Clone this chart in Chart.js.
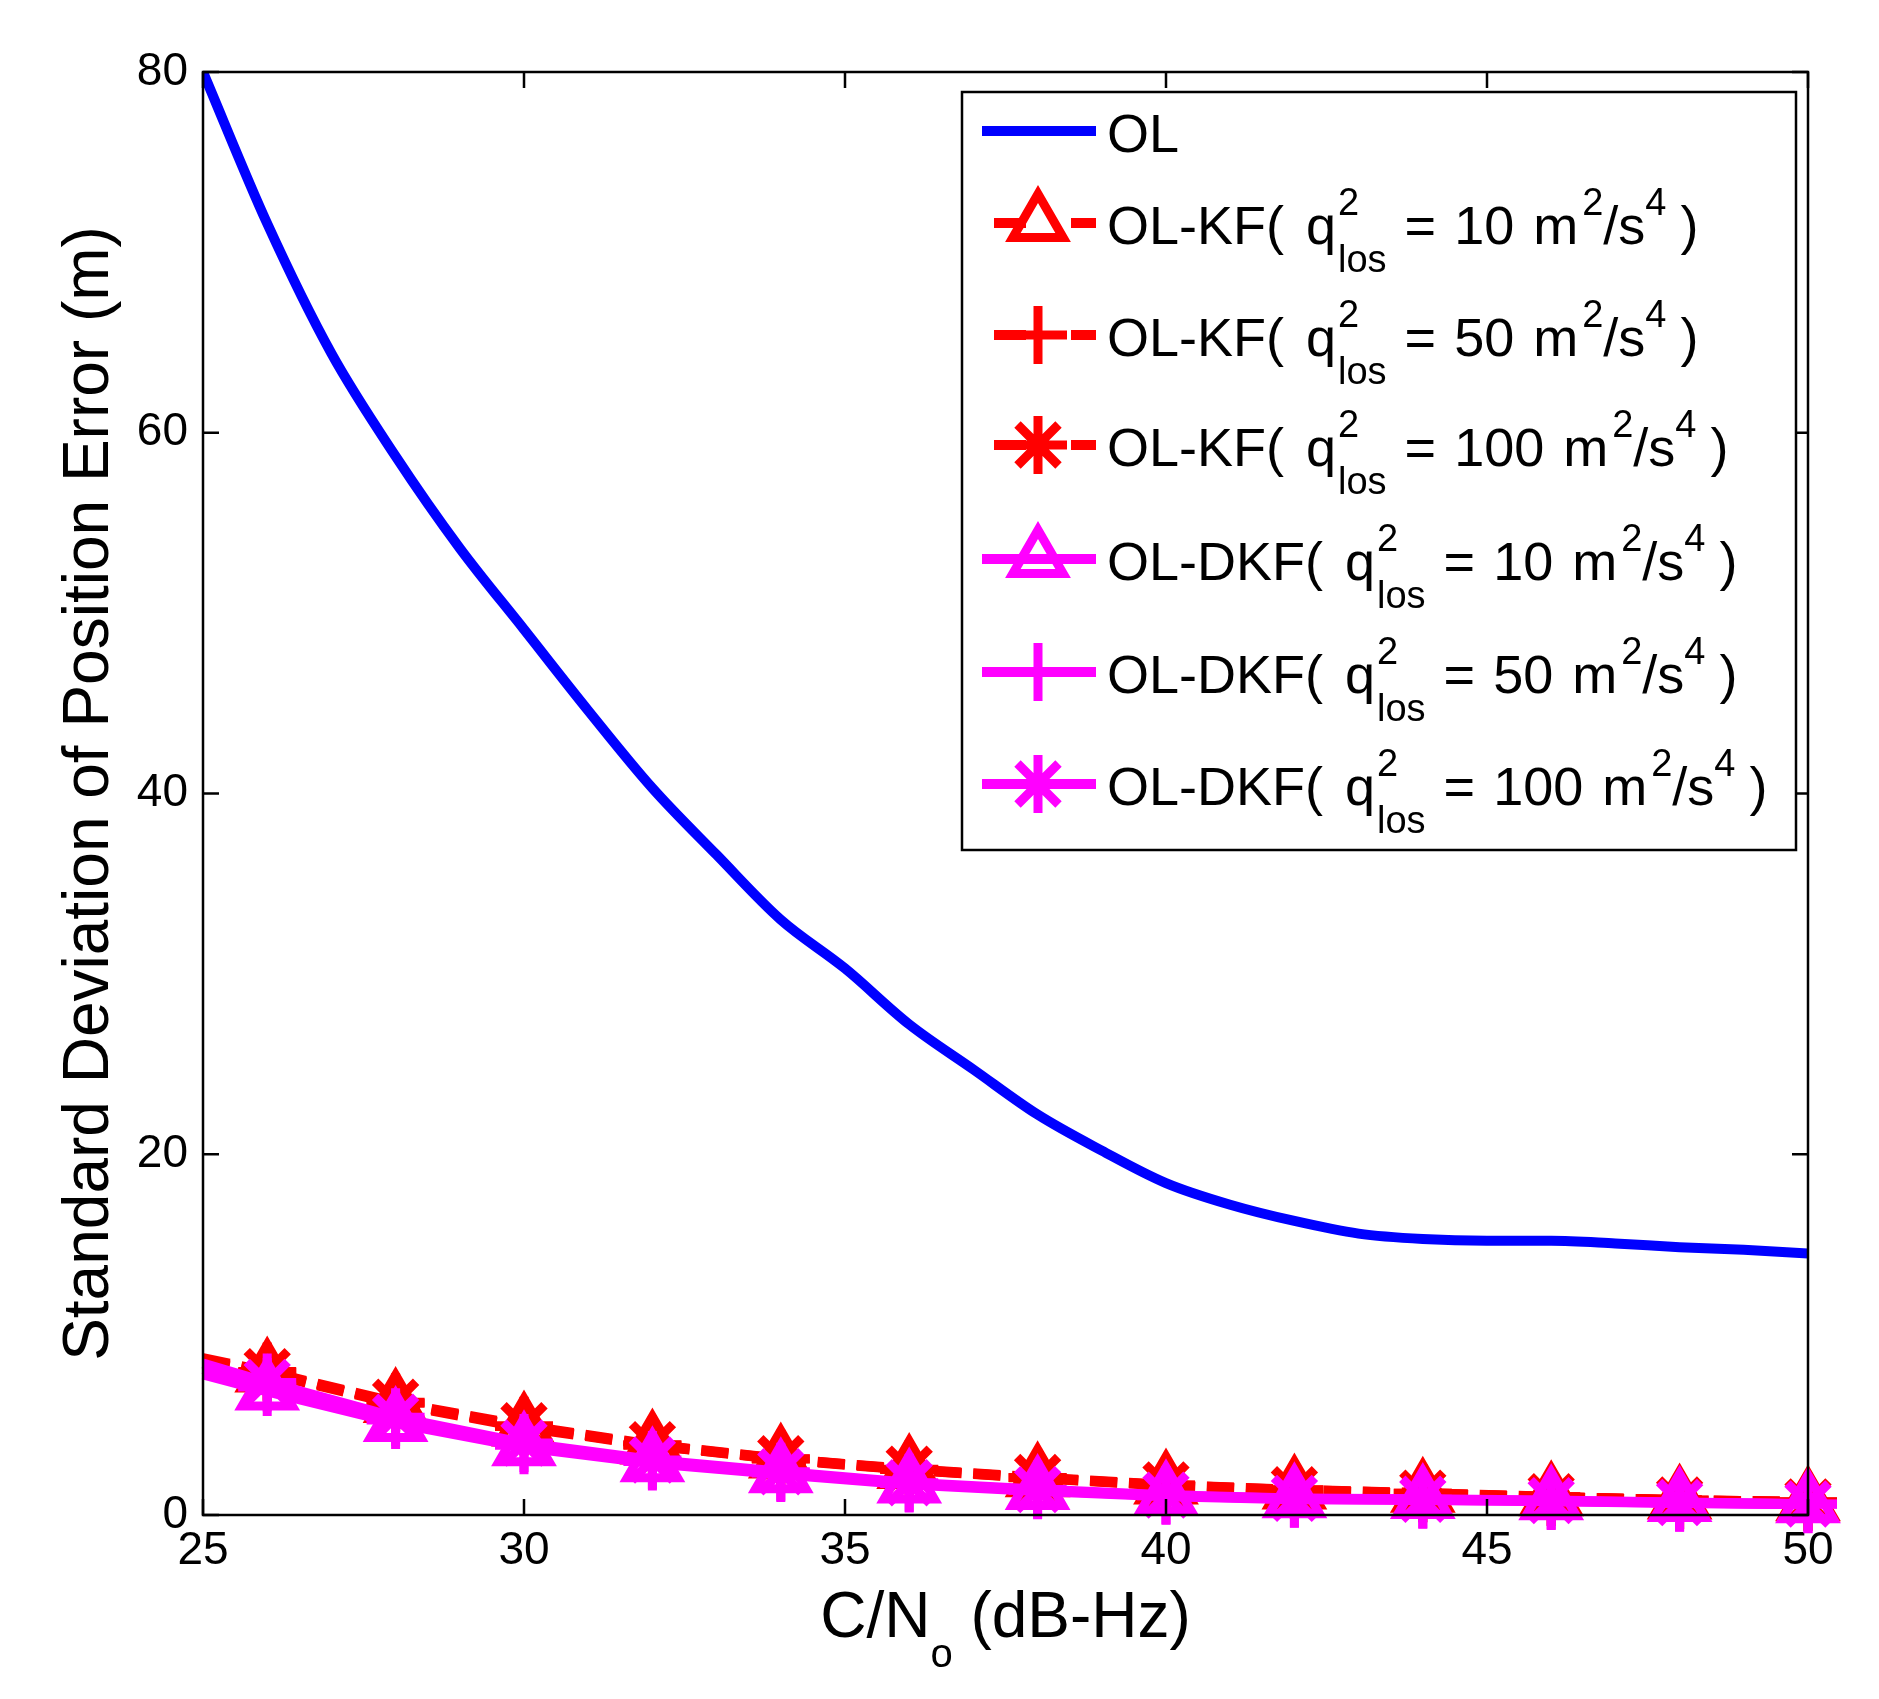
<!DOCTYPE html>
<html>
<head>
<meta charset="utf-8">
<script src="https://cdn.jsdelivr.net/npm/chart.js@4.4.1/dist/chart.umd.min.js"></script>
<style>
  html, body { margin: 0; padding: 0; background: #fff; }
  #wrap { width: 1879px; height: 1699px; position: relative; }
</style>
</head>
<body>
<div id="wrap"><canvas id="grafico"></canvas></div>
<script>
// eixo x: C/No em dB-Hz
const cnoOL = [25, 26, 27, 28, 29, 30, 31, 32, 33, 34, 35, 36, 37, 38, 39, 40, 41, 42, 43, 44, 45, 46, 47, 48, 49, 50];
const olValues = [80, 71.6, 64.4, 58.7, 53.6, 49.1, 44.6, 40.3, 36.6, 33.0, 30.3, 27.2, 24.7, 22.2, 20.2, 18.4,
                  17.2, 16.3, 15.6, 15.3, 15.2, 15.2, 15.05, 14.85, 14.7, 14.5];

// filtros: pontos a cada 2 dB-Hz (o primeiro, 25, sem marcador)
const cnoKF = [25, 26, 28, 30, 32, 34, 36, 38, 40, 42, 44, 46, 48, 50];
const kf10   = [8.5, 7.85, 6.15, 4.85, 3.85, 3.08, 2.50, 2.04, 1.63, 1.36, 1.18, 0.99, 0.81, 0.71];
const kf50   = [8.6, 7.90, 6.20, 4.90, 3.87, 3.10, 2.52, 2.06, 1.65, 1.38, 1.20, 1.00, 0.82, 0.72];
const kf100  = [8.7, 7.95, 6.25, 4.95, 3.90, 3.12, 2.54, 2.08, 1.67, 1.40, 1.21, 1.01, 0.83, 0.73];
const dkf10  = [7.8, 6.85, 5.10, 3.75, 2.87, 2.26, 1.69, 1.33, 1.04, 0.88, 0.83, 0.76, 0.67, 0.59];
const dkf50  = [8.1, 7.10, 5.26, 3.87, 2.96, 2.33, 1.74, 1.37, 1.07, 0.90, 0.85, 0.78, 0.68, 0.60];
const dkf100 = [8.4, 7.35, 5.42, 3.99, 3.05, 2.40, 1.79, 1.41, 1.10, 0.92, 0.87, 0.80, 0.69, 0.61];

// legenda
const seriesNames = ['OL', 'OL-KF', 'OL-KF', 'OL-KF', 'OL-DKF', 'OL-DKF', 'OL-DKF'];
const qValues = [null, 10, 50, 100, 10, 50, 100];

// ticks
const xTicks = [25, 30, 35, 40, 45, 50];
const yTicks = [0, 20, 40, 60, 80];

const FAMILY = '"Liberation Sans", Arial, Helvetica, sans-serif';
const AZUL = '#0000ff', VERMELHO = '#ff0000', MAGENTA = '#ff00ff';

function pts(xs, ys) { return xs.map((x, i) => ({ x: x, y: ys[i] })); }

function serieFiltro(nome, valores, cor, estilo, tracejado, ordem) {
  return {
    label: nome,
    data: pts(cnoKF, valores),
    borderColor: cor,
    borderWidth: 10,
    borderDash: tracejado ? [27, 12] : [],
    borderJoinStyle: 'round',
    pointStyle: estilo,
    pointRadius: ctx => ctx.dataIndex === 0 ? 0 : 29,
    pointHoverRadius: ctx => ctx.dataIndex === 0 ? 0 : 29,
    pointBorderColor: cor,
    pointBackgroundColor: 'rgba(0,0,0,0)',
    pointBorderWidth: 9,
    tension: 0,
    clip: false,
    order: ordem
  };
}

const datasets = [
  { label: 'OL', data: pts(cnoOL, olValues), borderColor: AZUL, borderWidth: 10, pointRadius: 0,
    borderJoinStyle: 'round', cubicInterpolationMode: 'monotone', order: 7 },
  serieFiltro('KF10', kf10, VERMELHO, 'triangle', true, 6),
  serieFiltro('KF50', kf50, VERMELHO, 'cross', true, 5),
  serieFiltro('KF100', kf100, VERMELHO, 'star', true, 4),
  serieFiltro('DKF10', dkf10, MAGENTA, 'triangle', false, 3),
  serieFiltro('DKF50', dkf50, MAGENTA, 'cross', false, 2),
  serieFiltro('DKF100', dkf100, MAGENTA, 'star', false, 1)
];

// --- texto com sub/sobrescrito desenhado no canvas ---
function runTokens(ctx, tokens, x, base, main, small, draw) {
  for (const tk of tokens) {
    const tipo = tk[0];
    if (tipo === 'g') { x += tk[1]; continue; }
    if (tipo === 't') {
      ctx.font = main;
      if (draw) ctx.fillText(tk[1], x, base);
      x += ctx.measureText(tk[1]).width;
    } else if (tipo === 'sup' || tipo === 'sub') {
      ctx.font = small;
      const dy = tipo === 'sup' ? -tk[2] : tk[2];
      if (draw) ctx.fillText(tk[1], x, base + dy);
      x += ctx.measureText(tk[1]).width;
    } else if (tipo === 'ss') {
      ctx.font = small;
      if (draw) { ctx.fillText(tk[1], x, base - 29); ctx.fillText(tk[2], x, base + 28); }
      x += Math.max(ctx.measureText(tk[1]).width, ctx.measureText(tk[2]).width);
    }
  }
  return x;
}

function tokensLegenda(nome, q) {
  if (q === null) return [['t', nome]];
  return [['t', nome + '('], ['g', 22], ['t', 'q'], ['g', 2], ['ss', '2', 'los'], ['g', 18],
          ['t', '='], ['g', 18], ['t', String(q)], ['g', 19], ['t', 'm'], ['g', 4],
          ['sup', '2', 29], ['t', '/s'], ['sup', '4', 29], ['g', 14], ['t', ')']];
}

function marcador(ctx, estilo, x, y, r) {
  if (Chart.helpers && Chart.helpers.drawPoint) {
    Chart.helpers.drawPoint(ctx, { pointStyle: estilo, radius: r, rotation: 0, borderWidth: ctx.lineWidth }, x, y);
    return;
  }
  ctx.beginPath();
  if (estilo === 'triangle') {
    for (let k = 0; k < 3; k++) {
      const a = k * 2 * Math.PI / 3;
      const px = x + Math.sin(a) * r, py = y - Math.cos(a) * r;
      k === 0 ? ctx.moveTo(px, py) : ctx.lineTo(px, py);
    }
    ctx.closePath();
  } else {
    ctx.moveTo(x - r, y); ctx.lineTo(x + r, y); ctx.moveTo(x, y - r); ctx.lineTo(x, y + r);
    if (estilo === 'star') {
      const d = r / Math.SQRT2;
      ctx.moveTo(x - d, y - d); ctx.lineTo(x + d, y + d); ctx.moveTo(x + d, y - d); ctx.lineTo(x - d, y + d);
    }
  }
  ctx.stroke();
}

const molduraPlugin = {
  id: 'moldura',
  afterDatasetsDraw(chart) {
    const ctx = chart.ctx;
    const a = chart.chartArea;
    const sx = chart.scales.x, sy = chart.scales.y;
    ctx.save();
    ctx.strokeStyle = '#000';
    ctx.lineWidth = 2.5;
    ctx.setLineDash([]);
    ctx.strokeRect(a.left, a.top, a.right - a.left, a.bottom - a.top);
    const tl = 16;
    ctx.beginPath();
    xTicks.forEach(v => {
      const px = sx.getPixelForValue(v);
      ctx.moveTo(px, a.bottom); ctx.lineTo(px, a.bottom - tl);
      ctx.moveTo(px, a.top); ctx.lineTo(px, a.top + tl);
    });
    yTicks.forEach(v => {
      const py = sy.getPixelForValue(v);
      ctx.moveTo(a.left, py); ctx.lineTo(a.left + tl, py);
      ctx.moveTo(a.right, py); ctx.lineTo(a.right - tl, py);
    });
    ctx.stroke();

    // titulos dos eixos
    ctx.fillStyle = '#000';
    ctx.textBaseline = 'alphabetic';
    ctx.textAlign = 'left';
    const mainT = '64px ' + FAMILY, smallT = '40px ' + FAMILY;
    const xt = [['t', 'C/N'], ['sub', 'o', 30], ['t', ' (dB-Hz)']];
    const wx = runTokens(ctx, xt, 0, 0, mainT, smallT, false);
    const cx = (a.left + a.right) / 2;
    runTokens(ctx, xt, cx - wx / 2, 1637, mainT, smallT, true);

    ctx.save();
    ctx.translate(108, (a.top + a.bottom) / 2);
    ctx.rotate(-Math.PI / 2);
    ctx.font = mainT;
    ctx.textAlign = 'center';
    ctx.fillText('Standard Deviation of Position Error (m)', 0, 0);
    ctx.restore();

    // legenda
    const box = { l: 962, t: 92, r: 1796, b: 850 };
    ctx.fillStyle = '#fff';
    ctx.fillRect(box.l, box.t, box.r - box.l, box.b - box.t);
    ctx.strokeStyle = '#000';
    ctx.lineWidth = 2.5;
    ctx.strokeRect(box.l, box.t, box.r - box.l, box.b - box.t);
    const linhasY = [131, 223, 335, 445, 559, 672, 784];
    const mainL = '54px ' + FAMILY, smallL = '38px ' + FAMILY;
    chart.data.datasets.forEach((ds, i) => {
      const y = linhasY[i];
      ctx.strokeStyle = ds.borderColor;
      ctx.lineWidth = 10;
      ctx.lineCap = 'butt';
      if (ds.borderDash && ds.borderDash.length) {
        ctx.setLineDash([32, 45]);
        ctx.beginPath(); ctx.moveTo(994, y); ctx.lineTo(1096, y); ctx.stroke();
      } else {
        ctx.setLineDash([]);
        ctx.beginPath(); ctx.moveTo(982, y); ctx.lineTo(1096, y); ctx.stroke();
      }
      ctx.setLineDash([]);
      if (ds.pointStyle && i > 0) {
        ctx.lineWidth = 9;
        ctx.fillStyle = 'rgba(0,0,0,0)';
        marcador(ctx, ds.pointStyle, 1038, y, 29);
      }
      ctx.fillStyle = '#000';
      ctx.textAlign = 'left';
      runTokens(ctx, tokensLegenda(seriesNames[i], qValues[i]), 1107, y + 21, mainL, smallL, true);
    });
    ctx.restore();
  }
};

const fonteTicks = { size: 46, family: FAMILY };

new Chart(document.getElementById('grafico').getContext('2d'), {
  type: 'line',
  data: { datasets: datasets },
  options: {
    responsive: true,
    maintainAspectRatio: false,
    animation: false,
    devicePixelRatio: 1,
    layout: { padding: { top: 72, right: 71, left: 0, bottom: 0 } },
    plugins: { legend: { display: false }, tooltip: { enabled: false } },
    scales: {
      x: {
        type: 'linear', min: 25, max: 50,
        afterBuildTicks: s => { s.ticks = xTicks.map(v => ({ value: v })); },
        ticks: { color: '#000', font: fonteTicks, padding: 9, maxRotation: 0 },
        grid: { display: false, drawTicks: false },
        border: { display: false },
        afterFit: s => { s.height = 184; }
      },
      y: {
        min: 0, max: 80,
        afterBuildTicks: s => { s.ticks = yTicks.map(v => ({ value: v })); },
        ticks: { color: '#000', font: fonteTicks, padding: 15 },
        grid: { display: false, drawTicks: false },
        border: { display: false },
        afterFit: s => { s.width = 203; }
      }
    }
  },
  plugins: [molduraPlugin]
});
</script>
</body>
</html>
